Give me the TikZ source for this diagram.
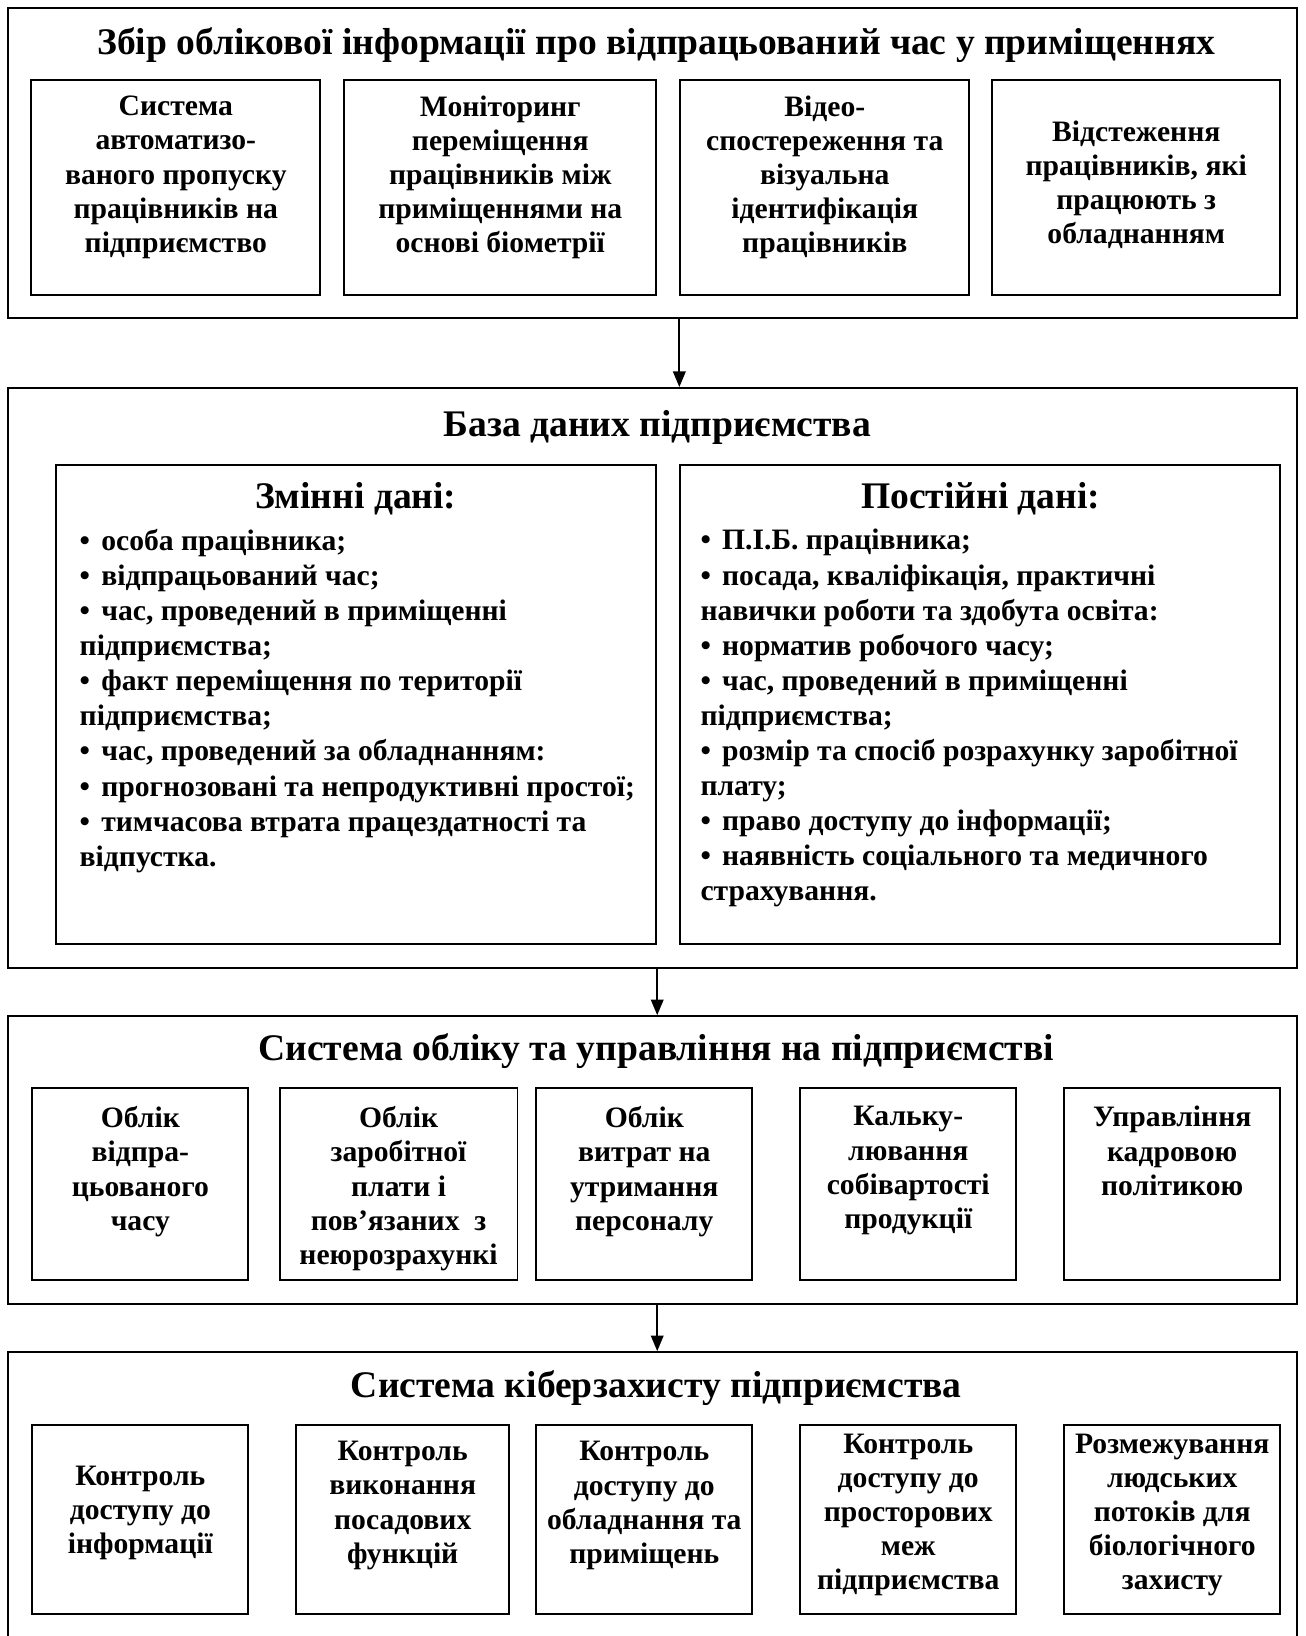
\documentclass[tikz,border=0pt]{standalone}
\usepackage{fontspec}
\setmainfont{Liberation Serif}
\usetikzlibrary{arrows.meta}
\newcommand\bul{•\hspace{0.38em}}
\begin{document}
\begin{tikzpicture}[x=0.5pt,y=-0.5pt,
  outer/.style={draw, line width=1pt, inner sep=0pt, minimum width=617.5pt},
  sbox/.style={draw, line width=0.9pt, inner sep=0pt},
  ttl/.style={font=\fontsize{18}{21}\selectfont\bfseries, inner sep=0pt},
  hdg/.style={font=\fontsize{18}{21}\selectfont\bfseries, inner sep=0pt},
  stxt/.style={font=\fontsize{14.2}{16.4}\selectfont\bfseries, align=center, inner sep=0pt},
  btxt/.style={font=\fontsize{14.2}{16.8}\selectfont\bfseries, align=left, inner sep=0pt, anchor=north west},
  arr/.style={line width=1pt, -{Triangle[length=7.5pt,width=6pt]}}
]
\useasboundingbox (0,0) rectangle (1251,1568);
\clip (0,0) rectangle (1251,1568);

% ---------- Block A ----------
\node[outer, minimum height=148.5pt] (A) at (625.5,156.5) {};
\node[ttl] (At) at (629,43) {Збір облікової інформації про відпрацьований час у приміщеннях};
\node[sbox, minimum width=138.5pt, minimum height=103pt] (a1) at (168.5,180) {};
\node[sbox, minimum width=149.5pt, minimum height=103pt] (a2) at (479.5,180) {};
\node[sbox, minimum width=138.5pt, minimum height=103pt] (a3) at (790.5,180) {};
\node[sbox, minimum width=138pt, minimum height=103pt] (a4) at (1089,180) {};
\node[stxt] (a1t) at (168.5,170) {Система\\автоматизо-\\ваного пропуску\\працівників на\\підприємство};
\node[stxt] (a2t) at (479.5,170) {Моніторинг\\переміщення\\працівників між\\приміщеннями на\\основі біометрії};
\node[stxt] (a3t) at (790.5,170) {Відео-\\спостереження та\\візуальна\\ідентифікація\\працівників};
\node[stxt] (a4t) at (1089,177) {Відстеження\\працівників, які\\працюють з\\обладнанням};

% ---------- Block B ----------
\node[outer, minimum height=278pt] (B) at (625.5,650) {};
\node[ttl] (Bt) at (630,410) {База даних підприємства};
\node[sbox, minimum width=287.5pt, minimum height=229.5pt] (L) at (341.5,675.5) {};
\node[sbox, minimum width=287.5pt, minimum height=229.5pt] (R) at (939.5,675.5) {};
\node[hdg] (Lh) at (341,478) {Змінні дані:};
\node[hdg] (Rh) at (940,478) {Постійні дані:};
\node[btxt] (Lt) at (76,507) {\bul особа працівника;\\
\bul відпрацьований час;\\
\bul час, проведений в приміщенні\\
підприємства;\\
\bul факт переміщення по території\\
підприємства;\\
\bul час, проведений за обладнанням:\\
\bul прогнозовані та непродуктивні простої;\\
\bul тимчасова втрата працездатності та\\
відпустка.};
\node[btxt] (Rt) at (671,507) {\bul П.І.Б. працівника;\\
\bul посада, кваліфікація, практичні\\
навички роботи та здобута освіта:\\
\bul норматив робочого часу;\\
\bul час, проведений в приміщенні\\
підприємства;\\
\bul розмір та спосіб розрахунку заробітної\\
плату;\\
\bul право доступу до інформації;\\
\bul наявність соціального та медичного\\
страхування.};

% ---------- Block C ----------
\node[outer, minimum height=138pt] (C) at (625.5,1112) {};
\node[ttl] (Ct) at (629,1007) {Система обліку та управління на підприємстві};
\node[sbox, minimum width=103.5pt, minimum height=92pt] (c1) at (134.5,1135) {};
\node[sbox, minimum width=114pt, minimum height=92pt] (c2) at (382,1135) {};
\node[sbox, minimum width=103.5pt, minimum height=92pt] (c3) at (617.5,1135) {};
\node[sbox, minimum width=103.5pt, minimum height=92pt] (c4) at (870.5,1135) {};
\node[sbox, minimum width=103.5pt, minimum height=92pt] (c5) at (1123.5,1135) {};
\node[stxt, anchor=north] (c1t) at (134.5,1060) {Облік\\відпра-\\цьованого\\часу};
\node[stxt, anchor=north] (c2t) at (382,1060) {Облік\\заробітної\\плати і\\пов’язаних\ \ з\\неюрозрахункі};
\node[stxt, anchor=north] (c3t) at (617.5,1060) {Облік\\витрат на\\утримання\\персоналу};
\node[stxt, anchor=north] (c4t) at (870.5,1060) {Кальку-\\лювання\\собівартості\\продукції};
\node[stxt, anchor=north] (c5t) at (1123.5,1060) {Управління\\кадровою\\політикою};

% ---------- Block D ----------
\node[outer, minimum height=147pt] (D) at (625.5,1443) {};
\node[ttl] (Dt) at (629,1330) {Система кіберзахисту підприємства};
\node[sbox, minimum width=103.5pt, minimum height=90.5pt] (d1) at (134.5,1456.5) {};
\node[sbox, minimum width=102pt, minimum height=90.5pt] (d2) at (386,1456.5) {};
\node[sbox, minimum width=103.5pt, minimum height=90.5pt] (d3) at (617.5,1456.5) {};
\node[sbox, minimum width=103.5pt, minimum height=90.5pt] (d4) at (870.5,1456.5) {};
\node[sbox, minimum width=103.5pt, minimum height=90.5pt] (d5) at (1123.5,1456.5) {};
\node[stxt] (d1t) at (134.5,1450) {Контроль\\доступу до\\інформації};
\node[stxt] (d2t) at (386,1443) {Контроль\\виконання\\посадових\\функцій};
\node[stxt] (d3t) at (617.5,1443) {Контроль\\доступу до\\обладнання та\\приміщень};
\node[stxt] (d4t) at (870.5,1452) {Контроль\\доступу до\\просторових\\меж\\підприємства};
\node[stxt] (d5t) at (1123.5,1452) {Розмежування\\людських\\потоків для\\біологічного\\захисту};

% ---------- Arrows ----------
\draw[arr] (A.south -| a3.west) -- (B.north -| a3.west);
\draw[arr] (B.south -| L.east) -- (C.north -| L.east);
\draw[arr] (C.south -| L.east) -- (D.north -| L.east);
\end{tikzpicture}
\end{document}
